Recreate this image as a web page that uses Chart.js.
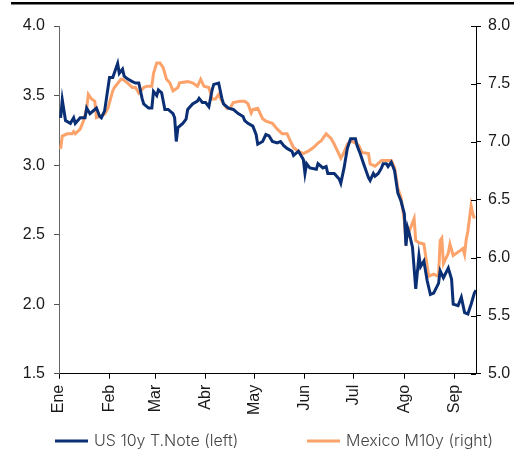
<!DOCTYPE html>
<html>
<head>
<meta charset="utf-8">
<script src="https://cdn.jsdelivr.net/npm/chart.js@4.4.0/dist/chart.umd.min.js"></script>
<style>
  body { margin: 0; background: #fff; }
  canvas { display: block; }
</style>
</head>
<body>
<canvas id="yieldChart" width="514" height="470"></canvas>
<script>
// month starts as day of year, with their labels
const monthDays = [0, 31, 59, 90, 120, 151, 181, 212, 243];
const monthLabels = ['Ene', 'Feb', 'Mar', 'Abr', 'May', 'Jun', 'Jul', 'Ago', 'Sep'];

// US 10y T.Note (left axis, %)
const usDays = [1,2,4,7,9,10,13,16,17,19,23,25,26,28,31,33,36,37,39,40,
  42,45,47,49,51,52,55,57,58,60,61,63,65,67,70,71,72,73,76,78,
  79,82,85,86,88,90,92,94,95,98,100,101,104,107,110,113,114,116,119,121,
  122,125,127,129,131,134,136,138,140,143,144,147,150,151,152,154,158,159,162,164,
  165,169,172,173,175,177,179,182,183,185,187,190,191,193,194,196,198,199,201,202,
  204,206,208,210,212,213,214,215,217,219,221,222,224,226,228,230,233,234,236,239,
  241,242,245,247,249,251,253,255,256];
const usYield = [3.34,3.47,3.32,3.30,3.34,3.30,3.34,3.34,3.41,3.37,
  3.41,3.35,3.34,3.39,3.63,3.63,3.73,3.66,3.69,3.64,
  3.62,3.60,3.59,3.59,3.48,3.44,3.41,3.41,3.53,3.50,
  3.54,3.52,3.40,3.40,3.37,3.34,3.17,3.27,3.30,3.33,
  3.40,3.44,3.46,3.48,3.45,3.45,3.42,3.54,3.58,3.59,
  3.48,3.44,3.41,3.40,3.37,3.35,3.32,3.30,3.28,3.22,
  3.15,3.17,3.22,3.21,3.17,3.16,3.17,3.14,3.12,3.10,
  3.07,3.10,3.04,2.94,3.01,2.98,2.97,3.01,2.98,2.99,
  2.94,2.94,2.90,2.87,2.98,3.12,3.19,3.19,3.14,3.08,
  3.01,2.91,2.89,2.94,2.92,2.94,2.98,3.01,3.01,2.99,
  3.02,2.96,2.80,2.74,2.65,2.42,2.55,2.51,2.41,2.11,
  2.35,2.27,2.31,2.17,2.07,2.08,2.15,2.24,2.19,2.26,
  2.18,2.00,1.99,2.05,1.94,1.93,2.00,2.08,2.10];

// Mexico M10y (right axis, %)
const mxDays = [1,2,5,8,9,10,13,15,17,18,20,22,23,25,28,30,33,34,38,39,
  42,45,47,49,52,54,57,58,60,62,64,66,68,70,73,74,79,82,85,87,
  89,92,94,96,98,100,103,105,107,111,114,116,118,119,122,125,127,131,134,137,
  140,142,144,147,150,153,156,159,161,162,164,167,169,171,173,175,177,179,182,184,
  186,190,191,194,198,199,204,206,208,210,212,213,215,218,219,221,224,227,230,233,
  234,235,236,239,240,242,246,248,249,250,251,253,254,255];
const mxYield = [6.94,7.05,7.07,7.07,7.09,7.07,7.11,7.18,7.29,7.41,
  7.37,7.35,7.21,7.22,7.24,7.29,7.44,7.47,7.54,7.54,
  7.51,7.47,7.47,7.42,7.47,7.48,7.48,7.59,7.68,7.68,
  7.64,7.54,7.51,7.44,7.47,7.51,7.52,7.51,7.48,7.54,
  7.48,7.47,7.37,7.37,7.41,7.35,7.29,7.29,7.34,7.35,
  7.35,7.33,7.25,7.28,7.29,7.20,7.18,7.16,7.11,7.07,
  7.07,7.01,6.95,6.92,6.90,6.92,6.95,6.99,7.01,7.03,
  7.07,7.03,6.98,6.92,6.86,6.91,6.98,7.01,6.99,6.97,
  6.91,6.90,6.81,6.79,6.84,6.84,6.84,6.78,6.60,6.52,
  6.32,6.15,6.23,6.34,6.15,6.13,6.12,5.84,5.86,5.84,
  6.15,6.17,5.95,6.04,6.12,6.02,6.06,6.08,6.03,6.16,
  6.23,6.45,6.38,6.34];

const navy = '#0b2f74';
const peach = '#fba36b';

function toPoints(days, vals) {
  return days.map((d, i) => ({ x: d, y: vals[i] }));
}

Chart.defaults.font.family = "'Liberation Sans', Arial, sans-serif";
Chart.defaults.font.size = 16;
Chart.defaults.color = '#1a1a1a';

// thin rule across the top, inner half of the right-axis ticks, legend
const decor = {
  id: 'decor',
  beforeDraw(chart) {
    const c = chart.ctx;
    c.save();
    c.fillStyle = '#000';
    c.fillRect(11, 2, 503, 2.5);
    c.restore();
  },
  afterDraw(chart) {
    const c = chart.ctx;
    const s = chart.scales.y2;
    c.save();
    c.strokeStyle = '#000';
    c.lineWidth = 1;
    s.ticks.forEach(t => {
      const y = Math.round(s.getPixelForValue(t.value)) + 0.5;
      c.beginPath();
      c.moveTo(s.left - 5, y);
      c.lineTo(s.left, y);
      c.stroke();
    });
    c.font = "300 16px Inter, 'Liberation Sans', sans-serif";
    c.textBaseline = 'middle';
    const items = [
      { x: 55, ds: chart.data.datasets[1] },
      { x: 307, ds: chart.data.datasets[0] }
    ];
    items.forEach(it => {
      c.strokeStyle = it.ds.borderColor;
      c.lineWidth = 3;
      c.beginPath();
      c.moveTo(it.x, 441);
      c.lineTo(it.x + 33, 441);
      c.stroke();
      c.fillStyle = '#444';
      c.fillText(it.ds.label, it.x + 39, 441);
    });
    c.restore();
  }
};

const ctx = document.getElementById('yieldChart').getContext('2d');
const myChart = new Chart(ctx, {
  type: 'line',
  data: {
    datasets: [{
      label: 'Mexico M10y (right)',
      data: toPoints(mxDays, mxYield),
      yAxisID: 'y2',
      borderColor: peach,
      borderWidth: 3,
      pointRadius: 0,
      fill: false,
      order: 2
    }, {
      label: 'US 10y T.Note (left)',
      data: toPoints(usDays, usYield),
      yAxisID: 'y',
      borderColor: navy,
      borderWidth: 3,
      pointRadius: 0,
      fill: false,
      order: 1
    }]
  },
  options: {
    responsive: false,
    animation: false,
    layout: { padding: { top: 26, left: 0, right: 0, bottom: 49 } },
    plugins: {
      legend: { display: false },
      tooltip: { enabled: false }
    },
    scales: {
      x: {
        type: 'linear',
        min: 0,
        max: 256,
        afterBuildTicks: (scale) => {
          scale.ticks = monthDays.map(v => ({ value: v }));
        },
        ticks: {
          minRotation: 90,
          maxRotation: 90,
          padding: 6,
          autoSkip: false,
          callback: (v) => monthLabels[monthDays.indexOf(v)]
        },
        grid: {
          drawOnChartArea: false,
          drawTicks: true,
          tickLength: 5,
          color: '#000'
        },
        border: { color: '#000', width: 1 }
      },
      y: {
        position: 'left',
        min: 1.5,
        max: 4.0,
        afterFit: (scale) => { scale.width = 59; },
        ticks: {
          stepSize: 0.5,
          padding: 9,
          callback: (v) => v.toFixed(1)
        },
        grid: {
          drawOnChartArea: false,
          tickLength: 5,
          color: '#555'
        },
        border: { color: '#666', width: 1 }
      },
      y2: {
        position: 'right',
        min: 5.0,
        max: 8.0,
        afterFit: (scale) => { scale.width = 38; },
        ticks: {
          stepSize: 0.5,
          padding: 7,
          callback: (v) => v.toFixed(1)
        },
        grid: {
          drawOnChartArea: false,
          tickLength: 5,
          color: '#000'
        },
        border: { color: '#000', width: 1 }
      }
    }
  },
  plugins: [decor]
});
</script>
</body>
</html>
